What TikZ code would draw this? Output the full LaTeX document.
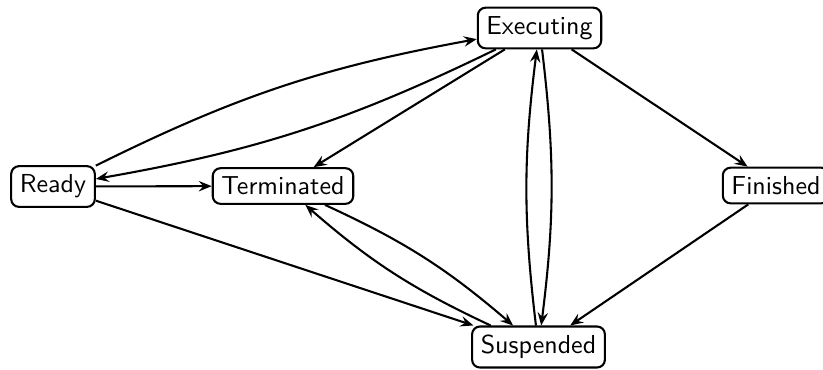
\documentclass[tikz,border=0pt]{standalone}
\usetikzlibrary{arrows.meta}
\begin{document}
\begin{tikzpicture}[x=0.3846pt, y=-0.3846pt,
  state/.style={draw, thick, rounded corners=3pt, font=\sffamily, inner sep=0.3333em},
  arr/.style={thick, -{Stealth[length=5pt, width=4pt, inset=1.8pt]}}]
  % page frame
  \useasboundingbox (0,0) rectangle (823,369);

  % states
  \node[state] (R) at (53,186.5) {Ready};
  \node[state] (T) at (283,186)  {Terminated};
  \node[state] (E) at (539.5,28)   {Executing};
  \node[state] (S) at (538.5,347) {Suspended};
  \node[state] (F) at (776,185.5)  {Finished};

  % transitions
  \draw[arr] (R) to[bend left=8] (E);
  \draw[arr] (E) to[bend left=8] (R);
  \draw[arr] (R) -- (T);
  \draw[arr] (R) -- (S);
  \draw[arr] (E) -- (T);
  \draw[arr] (E) -- (F);
  \draw[arr] (F) -- (S);
  \draw[arr] (T) to[bend left=8] (S);
  \draw[arr] (S) to[bend left=8] (T);
  \draw[arr] (S) to[bend left=7] (E);
  \draw[arr] (E) to[bend left=7] (S);
\end{tikzpicture}
\end{document}
